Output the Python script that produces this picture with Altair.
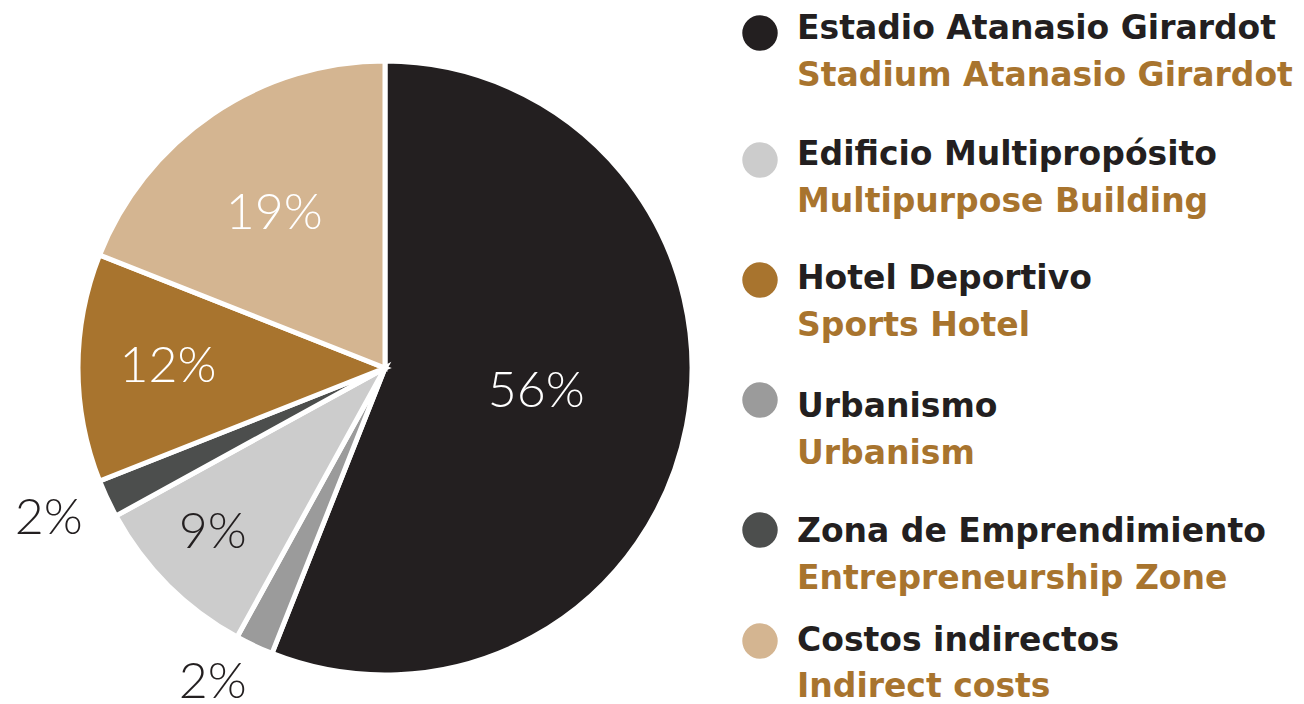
import altair as alt
import pandas as pd

# Pie order (clockwise from 12 o'clock)
cat_es = ["Estadio Atanasio Girardot", "Urbanismo", "Edificio Multipropósito",
          "Zona de Emprendimiento", "Hotel Deportivo", "Costos indirectos"]
cat_en = ["Stadium Atanasio Girardot", "Urbanism", "Multipurpose Building",
          "Entrepreneurship Zone", "Sports Hotel", "Indirect costs"]
shares = [56, 2, 9, 2, 12, 19]
pie_order = [0, 1, 2, 3, 4, 5]
legend_order = [0, 3, 1, 4, 2, 5]

colors = ["#231f20", "#9b9b9b", "#cccccc", "#4c4e4d", "#a8742e", "#d4b591"]

df = pd.DataFrame({
    "es": cat_es,
    "en": cat_en,
    "share": shares,
    "o": pie_order,
    "li": legend_order,
})
df["label"] = df["share"].astype(str) + "%"

CX, CY, R = 377, 360, 307
theta_scale = alt.Scale(domain=[0, 100], range=[0, 6.283185307179586])
color = alt.Color("es:N", scale=alt.Scale(domain=cat_es, range=colors), legend=None)

base = alt.Chart(df).transform_window(
    cum="sum(share)", sort=[alt.SortField("o")], frame=[None, 0]
).transform_calculate(
    start="datum.cum - datum.share",
    mid="datum.cum - datum.share / 2",
)

arcs = base.mark_arc(outerRadius=R, stroke="white", strokeWidth=5).encode(
    theta=alt.Theta("start:Q", scale=theta_scale),
    theta2="cum:Q",
    color=color,
    x=alt.value(CX),
    y=alt.value(CY),
)

# label style per category: (radius, colour, dx, dy)
label_style = {
    "Estadio Atanasio Girardot": (154, "white", 0, -5),
    "Urbanismo": (360, "#231f20", -19, -11),
    "Edificio Multipropósito": (238, "#231f20", -4, -3),
    "Zona de Emprendimiento": (366, "#231f20", -5, -5),
    "Hotel Deportivo": (217, "white", 0, -1),
    "Costos indirectos": (190, "white", -4, 3),
}

label_layers = []
for cat, (rad, col, ddx, ddy) in label_style.items():
    label_layers.append(
        base.transform_filter(alt.datum.es == cat)
        .mark_text(radius=rad, font="Lato", fontWeight=300, fontSize=50,
                   color=col, align="center", baseline="middle", dx=ddx, dy=ddy)
        .encode(
            theta=alt.Theta("mid:Q", scale=theta_scale),
            x=alt.value(CX),
            y=alt.value(CY),
            text="label:N",
        )
    )

legend_idx = [0, 1, 2, 3, 4, 5]
dot_scale = alt.Scale(domain=legend_idx, range=[25, 152, 272, 392, 522, 633],
                      zero=False, nice=False)
es_scale = alt.Scale(domain=legend_idx, range=[31, 157, 281, 409, 534, 643],
                     zero=False, nice=False)
en_scale = alt.Scale(domain=legend_idx, range=[78, 204, 328, 456, 581, 689],
                     zero=False, nice=False)
lbase = alt.Chart(df)

dots = lbase.mark_point(filled=True, size=1257, opacity=1, shape="circle").encode(
    x=alt.value(752),
    y=alt.Y("li:Q", scale=dot_scale, axis=None),
    color=color,
)

es_text = lbase.mark_text(font="DejaVu Sans", fontWeight="bold", fontSize=33, align="left",
                          baseline="alphabetic", color="#231f20").encode(
    x=alt.value(789),
    y=alt.Y("li:Q", scale=es_scale, axis=None),
    text="es:N",
)
en_text = lbase.mark_text(font="DejaVu Sans", fontWeight="bold", fontSize=33, align="left",
                          baseline="alphabetic", color="#a8742e").encode(
    x=alt.value(789),
    y=alt.Y("li:Q", scale=en_scale, axis=None),
    text="en:N",
)

chart = alt.layer(arcs, *label_layers, dots, es_text, en_text).resolve_scale(
    y="independent"
).properties(
    width=1288, height=696, padding=0, autosize=alt.AutoSizeParams(type="none")
).configure_view(stroke=None)

chart.save("out.html", embed_options={"renderer": "svg", "actions": False})
